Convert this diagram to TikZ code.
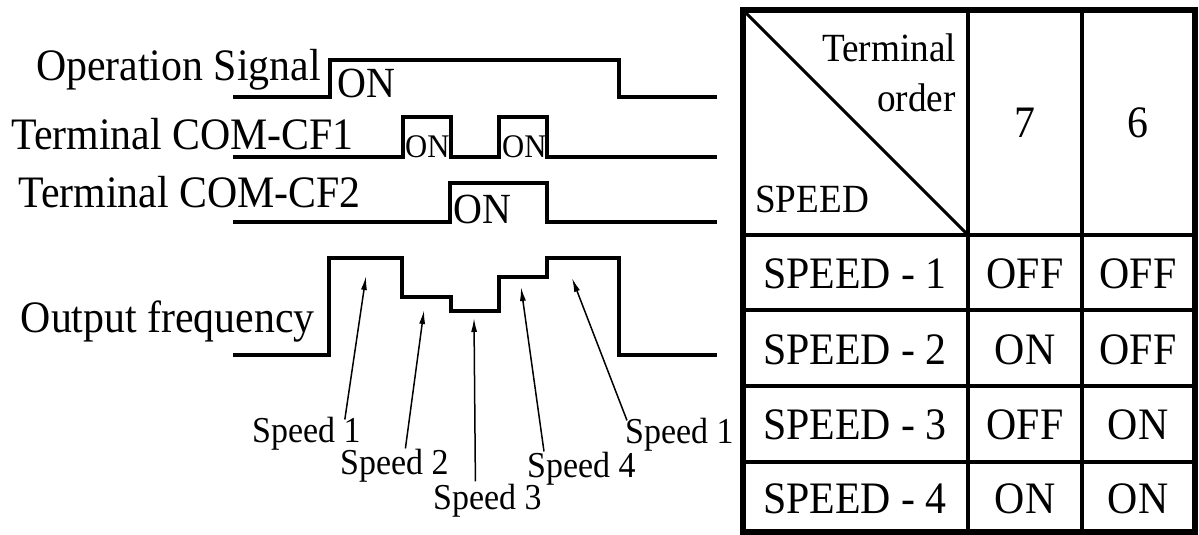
\documentclass[tikz,border=0pt]{standalone}
\usepackage{fontspec}
\setmainfont{Liberation Serif}
\newfontfamily\tallfont{Liberation Serif}[FakeStretch=0.93]
\usetikzlibrary{arrows.meta}
\tikzset{
  sigline/.style={line width=3.3pt, line join=miter},
  freqline/.style={line width=4.6pt, line join=miter},
  ptrarrow/.style={-{Latex[length=14pt, width=6pt]}, line width=1.5pt},
  siglabel/.style={font=\tallfont\fontsize{45}{50}\selectfont, anchor=base east},
  onbig/.style={font=\tallfont\fontsize{43}{48}\selectfont, anchor=base west},
  onsmall/.style={font=\tallfont\fontsize{33}{38}\selectfont, anchor=base west},
  speedlabel/.style={font=\tallfont\fontsize{36.5}{40}\selectfont, anchor=base west},
  hdtext/.style={font=\tallfont\fontsize{40}{45}\selectfont},
  celltext/.style={font=\tallfont\fontsize{45}{50}\selectfont, anchor=base},
  gridline/.style={line width=4.6pt},
  gridframe/.style={line width=6pt}
}

\begin{document}
\begin{tikzpicture}[x=1pt, y=-1pt, >=Latex, every node/.style={inner sep=0pt}]
  \useasboundingbox (0,0) rectangle (1199,535);

  % timing chart
  \node[siglabel] (lblop) at (321,81) {Operation Signal};
  \node[siglabel] (lblcf1) at (354,149) {Terminal COM-CF1};
  \node[siglabel] (lblcf2) at (361,207) {Terminal COM-CF2};
  \node[siglabel] (lblfreq) at (315,332) {Output frequency};

  \draw[sigline] (233,97) -- (330,97) -- (330,60) -- (619,60) -- (619,97) -- (717,97);
  \draw[sigline] (233,157) -- (403,157) -- (403,117) -- (451,117) -- (451,157) -- (499,157)
    -- (499,117) -- (547,117) -- (547,157) -- (717,157);
  \draw[sigline] (233,222) -- (450,222) -- (450,183) -- (547,183) -- (547,222) -- (717,222);
  \draw[freqline] (233,355) -- (329,355) -- (329,258) -- (402,258) -- (402,297) -- (451,297)
    -- (451,311) -- (499,311) -- (499,277) -- (547,277) -- (547,258) -- (619,258)
    -- (619,355) -- (717,355);

  \node[onbig] (onop) at (337,97) {ON};
  \node[onsmall] (oncf1a) at (405,157) {ON};
  \node[onsmall] (oncf1b) at (502,157) {ON};
  \node[onbig] (oncf2) at (453,223) {ON};

  \node[speedlabel] (sp1) at (252,442) {Speed 1};
  \node[speedlabel] (sp2) at (340,474) {Speed 2};
  \node[speedlabel] (sp3) at (433,509) {Speed 3};
  \node[speedlabel] (sp4) at (527,477) {Speed 4};
  \node[speedlabel] (sp5) at (625,443) {Speed 1};

  \coordinate (tip1) at (366,276);
  \coordinate (tip2) at (424,310);
  \coordinate (tip3) at (474,318);
  \coordinate (tip4) at (521,287);
  \coordinate (tip5) at (572,278);
  \draw[ptrarrow] ([xshift=-16pt, yshift=-3pt]sp1.north east) -- (tip1);
  \draw[ptrarrow] ([xshift=11pt]sp2.north) -- (tip2);
  \draw[ptrarrow] ([xshift=-12pt, yshift=2pt]sp3.north) -- (tip3);
  \draw[ptrarrow] ([xshift=17pt]sp4.north west) -- (tip4);
  \draw[ptrarrow] ([xshift=2pt, yshift=-3pt]sp5.north west) -- (tip5);

  % speed table
  \draw[gridline] (743,235) -- (1195,235);
  \draw[gridline] (743,310) -- (1195,310);
  \draw[gridline] (743,386) -- (1195,386);
  \draw[gridline] (743,462) -- (1195,462);
  \draw[gridline] (968,10) -- (968,532);
  \draw[gridline] (1082,10) -- (1082,532);
  \draw[line width=3pt] (743,10) -- (968,235);
  \draw[gridframe] (743,10) rectangle (1195,532);

  \node[hdtext, anchor=base east] (hdterm) at (956,62) {Terminal};
  \node[hdtext, anchor=base east] (hdorder) at (956,111) {order};
  \node[hdtext, anchor=base west] (hdspeed) at (755,212) {SPEED};
  \node[celltext, anchor=center] (hdseven) at (1025,123) {7};
  \node[celltext, anchor=center] (hdsix) at (1138,123) {6};

  \node[celltext] (rowa) at (855,288) {SPEED - 1};
  \node[celltext] (rowaseven) at (1025,288) {OFF};
  \node[celltext] (rowasix) at (1138,288) {OFF};
  \node[celltext] (rowb) at (855,364) {SPEED - 2};
  \node[celltext] (rowbseven) at (1025,364) {ON};
  \node[celltext] (rowbsix) at (1138,364) {OFF};
  \node[celltext] (rowc) at (855,439) {SPEED - 3};
  \node[celltext] (rowcseven) at (1025,439) {OFF};
  \node[celltext] (rowcsix) at (1138,439) {ON};
  \node[celltext] (rowd) at (855,513) {SPEED - 4};
  \node[celltext] (rowdseven) at (1025,513) {ON};
  \node[celltext] (rowdsix) at (1138,513) {ON};
\end{tikzpicture}
\end{document}
